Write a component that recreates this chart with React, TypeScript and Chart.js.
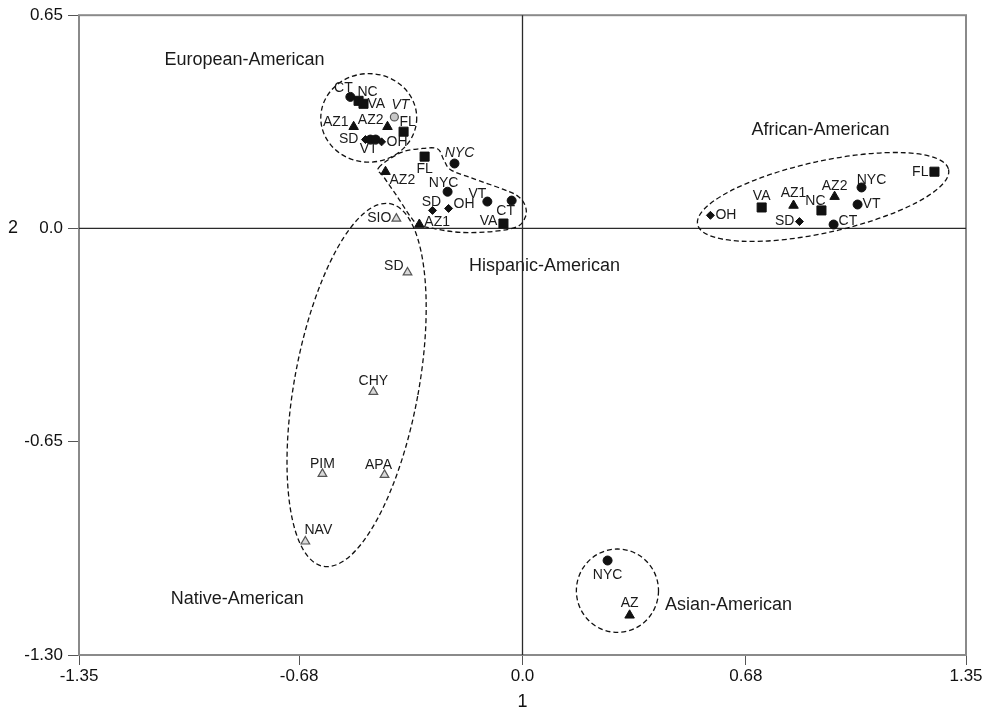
import React, { useEffect, useRef } from 'react';
import { Chart, registerables } from 'chart.js';

Chart.register(...registerables);

// ---------- axes ----------
const X_TICKS = [-1.35, -0.68, 0, 0.68, 1.35];
const X_TICK_LABELS = ['-1.35', '-0.68', '0.0', '0.68', '1.35'];
const Y_TICKS = [0.65, 0, -0.65, -1.3];
const Y_TICK_LABELS = ['0.65', '0.0', '-0.65', '-1.30'];
const X_TITLE = '1';
const Y_TITLE = '2';

// ---------- data ----------
// European-American
const EUR_LABELS = ['CT', 'NC', 'VA', 'VT', 'AZ1', 'AZ2', 'FL', 'SD', '', 'VT', 'OH'];
const EUR_X = [-0.524, -0.499, -0.484, -0.39, -0.514, -0.411, -0.362, -0.478, -0.463, -0.447, -0.429];
const EUR_Y = [0.401, 0.389, 0.38, 0.34, 0.31, 0.31, 0.295, 0.271, 0.271, 0.271, 0.264];
const EUR_MARKERS = ['circle', 'square', 'square', 'openCircle', 'triangle', 'triangle', 'square', 'diamond', 'circle', 'circle', 'diamond'];

// Hispanic-American
const HIS_LABELS = ['FL', 'NYC', 'AZ2', 'NYC', 'VT', 'CT', 'SD', 'OH', 'VA', 'AZ1'];
const HIS_X = [-0.298, -0.207, -0.417, -0.228, -0.107, -0.033, -0.274, -0.225, -0.058, -0.314];
const HIS_Y = [0.219, 0.198, 0.173, 0.112, 0.082, 0.085, 0.055, 0.061, 0.015, 0.012];
const HIS_MARKERS = ['square', 'circle', 'triangle', 'circle', 'circle', 'circle', 'diamond', 'diamond', 'square', 'triangle'];

// African-American
const AFR_LABELS = ['OH', 'VA', 'AZ1', 'NC', 'AZ2', 'NYC', 'VT', 'SD', 'CT', 'FL'];
const AFR_X = [0.572, 0.728, 0.825, 0.91, 0.95, 1.032, 1.02, 0.843, 0.947, 1.254];
const AFR_Y = [0.04, 0.064, 0.07, 0.055, 0.097, 0.125, 0.073, 0.021, 0.012, 0.173];
const AFR_MARKERS = ['diamond', 'square', 'triangle', 'square', 'triangle', 'circle', 'circle', 'diamond', 'circle', 'square'];

// Native-American
const NAT_LABELS = ['SIO', 'SD', 'CHY', 'PIM', 'APA', 'NAV'];
const NAT_X = [-0.384, -0.35, -0.454, -0.609, -0.42, -0.661];
const NAT_Y = [0.03, -0.134, -0.498, -0.748, -0.751, -0.954];
const NAT_MARKERS = ['openTriangle', 'openTriangle', 'openTriangle', 'openTriangle', 'openTriangle', 'openTriangle'];

// Asian-American
const ASI_LABELS = ['NYC', 'AZ'];
const ASI_X = [0.259, 0.326];
const ASI_Y = [-1.012, -1.179];
const ASI_MARKERS = ['circle', 'triangle'];

// group names and their anchor (data space)
const GROUP_NAMES = ['European-American', 'Hispanic-American', 'African-American', 'Native-American', 'Asian-American'];
const GROUP_NAME_X = [-0.846, 0.067, 0.907, -0.868, 0.627];
const GROUP_NAME_Y = [0.514, -0.115, 0.301, -1.128, -1.149];

// ---------- label layout (pixel offsets, alignment, italic) ----------
type Lay = [number, number, CanvasTextAlign, boolean?];
const EUR_LAYOUT: Lay[] = [
  [-7, -9, 'center'], [9, -9, 'center'], [4, 0, 'left'], [6, -12, 'center', true], [-5, -5, 'right'],
  [-4, -7, 'right'], [4, -10, 'center'], [-7, 0, 'right'], [0, 0, 'center'], [-7, 10, 'center'], [5, 0, 'left'],
];
const HIS_LAYOUT: Lay[] = [
  [0, 13, 'center'], [5, -10, 'center', true], [4, 8, 'left'], [-4, -9, 'center'], [-10, -7, 'center'],
  [-6, 11, 'center'], [-1, -8, 'center'], [5, -4, 'left'], [-6, -2, 'right'], [5, -2, 'left'],
];
const AFR_LAYOUT: Lay[] = [
  [5, 0, 'left'], [0, -11, 'center'], [0, -12, 'center'], [-6, -9, 'center'], [0, -11, 'center'],
  [10, -7, 'center'], [5, 0, 'left'], [-5, 0, 'right'], [5, -3, 'left'], [-6, 0, 'right'],
];
const NAT_LAYOUT: Lay[] = [
  [-5, 0, 'right'], [-4, -6, 'right'], [0, -11, 'center'], [0, -10, 'center'], [-6, -10, 'center'], [13, -11, 'center'],
];
const ASI_LAYOUT: Lay[] = [[0, 15, 'center'], [0, -12, 'center']];

// ---------- outlines (data space) ----------
const ELLIPSES = [
  { cx: -0.468, cy: 0.337, rx: 0.146, ry: 0.135, rot: 0 },          // European
  { cx: 0.915, cy: 0.096, rx: 0.391, ry: 0.109, rot: -0.216 },      // African
  { cx: -0.505, cy: -0.477, rx: 0.189, ry: 0.562, rot: 0.182 },     // Native
  { cx: 0.289, cy: -1.104, rx: 0.125, ry: 0.127, rot: 0 },          // Asian
];
const HIS_OUTLINE_X = [-0.438, -0.371, -0.311, -0.259, -0.24, -0.219, -0.158, -0.058, -0.012, 0.009, 0.009, -0.015, -0.088, -0.189, -0.271, -0.317, -0.341, -0.381, -0.423];
const HIS_OUTLINE_Y = [0.185, 0.231, 0.243, 0.243, 0.21, 0.179, 0.155, 0.119, 0.097, 0.067, 0.036, 0.006, -0.009, -0.012, 0.0, 0.012, 0.036, 0.097, 0.158];

const FONT = '"Liberation Sans", Arial, Helvetica, sans-serif';

const MARKER_STYLE: Record<string, { ps: any; r: number; bg: string; bc: string; bw: number }> = {
  circle: { ps: 'circle', r: 4.5, bg: '#111', bc: '#111', bw: 1 },
  square: { ps: 'rect', r: 6.4, bg: '#111', bc: '#111', bw: 1 },
  triangle: { ps: 'triangle', r: 5.5, bg: '#111', bc: '#111', bw: 1 },
  diamond: { ps: 'rectRot', r: 4, bg: '#111', bc: '#111', bw: 1 },
  openCircle: { ps: 'circle', r: 4, bg: '#c8c8c8', bc: '#555', bw: 1.2 },
  openTriangle: { ps: 'triangle', r: 5, bg: '#d8d8d8', bc: '#555', bw: 1.2 },
};

const GROUPS = [
  { labels: EUR_LABELS, xs: EUR_X, ys: EUR_Y, markers: EUR_MARKERS, layout: EUR_LAYOUT },
  { labels: HIS_LABELS, xs: HIS_X, ys: HIS_Y, markers: HIS_MARKERS, layout: HIS_LAYOUT },
  { labels: AFR_LABELS, xs: AFR_X, ys: AFR_Y, markers: AFR_MARKERS, layout: AFR_LAYOUT },
  { labels: NAT_LABELS, xs: NAT_X, ys: NAT_Y, markers: NAT_MARKERS, layout: NAT_LAYOUT },
  { labels: ASI_LABELS, xs: ASI_X, ys: ASI_Y, markers: ASI_MARKERS, layout: ASI_LAYOUT },
];

const annotationPlugin = {
  id: 'annot',
  beforeDatasetsDraw(chart: any) {
    const { ctx, chartArea: a } = chart;
    const x = chart.scales.x, y = chart.scales.y;
    ctx.save();
    // frame
    ctx.strokeStyle = '#8a8a8a';
    ctx.lineWidth = 2;
    ctx.strokeRect(a.left, a.top, a.right - a.left, a.bottom - a.top);
    // zero lines
    const x0 = x.getPixelForValue(0), y0 = y.getPixelForValue(0);
    ctx.strokeStyle = '#2a2a2a';
    ctx.lineWidth = 1.3;
    ctx.beginPath();
    ctx.moveTo(x0, a.top); ctx.lineTo(x0, a.bottom);
    ctx.moveTo(a.left, y0); ctx.lineTo(a.right, y0);
    ctx.stroke();
    // dashed outlines
    ctx.setLineDash([5, 3]);
    ctx.strokeStyle = '#111';
    ctx.lineWidth = 1.3;
    for (const e of ELLIPSES) {
      const cx = x.getPixelForValue(e.cx), cy = y.getPixelForValue(e.cy);
      const rx = Math.abs(x.getPixelForValue(e.cx + e.rx) - cx);
      const ry = Math.abs(y.getPixelForValue(e.cy + e.ry) - cy);
      ctx.beginPath();
      ctx.ellipse(cx, cy, rx, ry, e.rot, 0, Math.PI * 2);
      ctx.stroke();
    }
    const pts = HIS_OUTLINE_X.map((vx, i) => [x.getPixelForValue(vx), y.getPixelForValue(HIS_OUTLINE_Y[i])]);
    const n = pts.length;
    ctx.beginPath();
    ctx.moveTo(pts[0][0], pts[0][1]);
    for (let i = 0; i < n; i++) {
      const p0 = pts[(i - 1 + n) % n], p1 = pts[i], p2 = pts[(i + 1) % n], p3 = pts[(i + 2) % n];
      ctx.bezierCurveTo(
        p1[0] + (p2[0] - p0[0]) / 6, p1[1] + (p2[1] - p0[1]) / 6,
        p2[0] - (p3[0] - p1[0]) / 6, p2[1] - (p3[1] - p1[1]) / 6,
        p2[0], p2[1]
      );
    }
    ctx.closePath();
    ctx.stroke();
    ctx.restore();
  },
  afterDatasetsDraw(chart: any) {
    const { ctx } = chart;
    const x = chart.scales.x, y = chart.scales.y;
    ctx.save();
    ctx.fillStyle = '#1a1a1a';
    ctx.textBaseline = 'middle';
    GROUPS.forEach((g, di) => {
      const meta = chart.getDatasetMeta(di);
      g.labels.forEach((lab, i) => {
        if (!lab) return;
        const el = meta.data[i];
        const [dx, dy, align, italic] = g.layout[i];
        ctx.font = `${italic ? 'italic ' : ''}14px ${FONT}`;
        ctx.textAlign = align;
        ctx.fillText(lab, el.x + dx, el.y + dy);
      });
    });
    // group names
    ctx.font = `18px ${FONT}`;
    ctx.textAlign = 'center';
    GROUP_NAMES.forEach((name, i) => {
      ctx.fillText(name, x.getPixelForValue(GROUP_NAME_X[i]), y.getPixelForValue(GROUP_NAME_Y[i]));
    });
    // axis titles
    ctx.fillStyle = '#111';
    ctx.font = `18px ${FONT}`;
    ctx.fillText(X_TITLE, x.getPixelForValue(0), y.bottom + 47);
    ctx.fillText(Y_TITLE, 13, y.getPixelForValue(0));
    ctx.restore();
  },
};

export default function App() {
  const ref = useRef<HTMLCanvasElement | null>(null);
  useEffect(() => {
    if (!ref.current) return;
    const datasets = GROUPS.map((g) => ({
      data: g.xs.map((vx, i) => ({ x: vx, y: g.ys[i] })),
      pointStyle: g.markers.map((m) => MARKER_STYLE[m].ps),
      pointRadius: g.markers.map((m) => MARKER_STYLE[m].r),
      pointBackgroundColor: g.markers.map((m) => MARKER_STYLE[m].bg),
      pointBorderColor: g.markers.map((m) => MARKER_STYLE[m].bc),
      pointBorderWidth: g.markers.map((m) => MARKER_STYLE[m].bw),
      showLine: false,
    }));
    const chart = new Chart(ref.current, {
      type: 'scatter',
      data: { datasets },
      plugins: [annotationPlugin],
      options: {
        animation: false,
        responsive: false,
        events: [],
        layout: { padding: { top: 13, right: 19, left: 0, bottom: 0 } },
        plugins: { legend: { display: false }, tooltip: { enabled: false } },
        scales: {
          x: {
            type: 'linear',
            min: -1.35,
            max: 1.35,
            afterBuildTicks: (s: any) => { s.ticks = X_TICKS.map((v) => ({ value: v })); },
            afterFit: (s: any) => { s.height = 60; },
            ticks: {
              callback: (_v: any, i: number) => X_TICK_LABELS[i],
              font: { family: FONT, size: 17 },
              color: '#111',
              padding: 1,
              maxRotation: 0,
              autoSkip: false,
            },
            grid: { drawOnChartArea: false, drawTicks: true, tickLength: 10, color: '#555' },
            border: { display: false },
          },
          y: {
            type: 'linear',
            min: -1.3,
            max: 0.65,
            afterBuildTicks: (s: any) => { s.ticks = Y_TICKS.map((v) => ({ value: v })); },
            afterFit: (s: any) => { s.width = 79; },
            ticks: {
              callback: (_v: any, i: number) => Y_TICK_LABELS[i],
              font: { family: FONT, size: 17 },
              color: '#111',
              padding: 5,
              autoSkip: false,
            },
            grid: { drawOnChartArea: false, drawTicks: true, tickLength: 11, color: '#555' },
            border: { display: false },
          },
        },
      },
    });
    return () => chart.destroy();
  }, []);
  return (
    <div style={{ position: 'absolute', left: 0, top: 0, width: 985, height: 715, background: '#fff' }}>
      <canvas ref={ref} width={985} height={715} style={{ display: 'block' }} />
    </div>
  );
}
